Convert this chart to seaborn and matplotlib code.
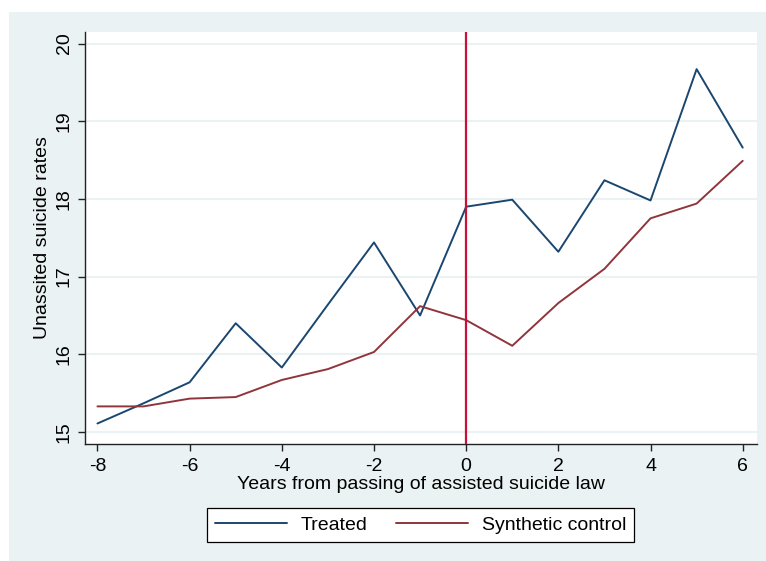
import numpy as np
import pandas as pd
import matplotlib
matplotlib.use("Agg")
import matplotlib.pyplot as plt
import matplotlib.patches as mpatches
import seaborn as sns

# Event time relative to the law's passage
years = [-8, -7, -6, -5, -4, -3, -2, -1, 0, 1, 2, 3, 4, 5, 6]

# Unassisted suicide rates
treated = [15.11, 15.37, 15.64, 16.40, 15.83, 16.64, 17.44, 16.50,
           17.90, 17.99, 17.32, 18.24, 17.98, 19.67, 18.66]
synthetic = [15.33, 15.33, 15.43, 15.45, 15.67, 15.81, 16.03, 16.62,
             16.44, 16.11, 16.66, 17.10, 17.75, 17.94, 18.49]

series_names = ["Treated", "Synthetic control"]
x_ticks = [-8, -6, -4, -2, 0, 2, 4, 6]
y_ticks = [15, 16, 17, 18, 19, 20]

df = pd.DataFrame({
    "year": years * 2,
    "rate": treated + synthetic,
    "series": [series_names[0]] * len(years) + [series_names[1]] * len(years),
})

sns.set_theme(style="white")
plt.rcParams["font.family"] = ["Liberation Sans", "DejaVu Sans"]

W, H = 766, 561
FS = 14
fig = plt.figure(figsize=(W / 100, H / 100), dpi=100, facecolor="white")

# Stata-like light blue-grey graph region
bg = "#EAF2F3"
fig.patches.append(mpatches.Rectangle((9 / W, 0), (W - 9) / W, (H - 12) / H,
                                      transform=fig.transFigure, facecolor=bg,
                                      edgecolor="none", zorder=-10))

left, right, top, bottom = 85, 757, 32, 444
ax = fig.add_axes([left / W, 1 - bottom / H, (right - left) / W, (bottom - top) / H])
ax.set_facecolor("white")

palette = {"Treated": "#1A476F", "Synthetic control": "#90353B"}
sns.lineplot(data=df, x="year", y="rate", hue="series", palette=palette,
             linewidth=1.4, ax=ax, legend=False, zorder=3)

ax.axvline(0, color="#C8103A", linewidth=1.6, zorder=4)

ax.set_xlim(-8.27, 6.31)
ax.set_ylim(14.846, 20.148)
ax.set_xticks(x_ticks)
ax.set_xticklabels([str(v) for v in x_ticks])
ax.set_yticks(y_ticks)
ax.set_yticklabels([str(v) for v in y_ticks], rotation=90, va="center")

ax.yaxis.grid(True, color=bg, linewidth=1.5, zorder=0)
ax.xaxis.grid(False)
ax.set_axisbelow(True)

for side in ["top", "right"]:
    ax.spines[side].set_visible(False)
for side in ["left", "bottom"]:
    ax.spines[side].set_color("#222222")
    ax.spines[side].set_linewidth(1.0)

ax.tick_params(axis="both", which="major", direction="out", length=5,
               width=1.0, color="#222222", labelsize=FS, labelcolor="black",
               bottom=True, left=True)
ax.tick_params(axis="x", pad=5)
ax.tick_params(axis="y", pad=4)

ax.set_xlabel("Years from passing of assisted suicide law", fontsize=FS,
              labelpad=1, color="black")
ax.set_ylabel("Unassited suicide rates", fontsize=FS, labelpad=3, color="black")

handles = [plt.Line2D([], [], color=palette[n], linewidth=1.4) for n in series_names]
leg = fig.legend(handles, series_names, ncol=2, loc="center",
                 bbox_to_anchor=(420.5 / W, 1 - 525 / H), frameon=True,
                 fancybox=False, fontsize=FS, handlelength=3.7,
                 handletextpad=0.7, columnspacing=1.5, borderpad=0.4,
                 framealpha=1.0, labelcolor="black")
leg.get_frame().set_edgecolor("black")
leg.get_frame().set_linewidth(0.9)
leg.get_frame().set_facecolor("white")

fig.savefig("out.png", dpi=100, facecolor=fig.get_facecolor())
